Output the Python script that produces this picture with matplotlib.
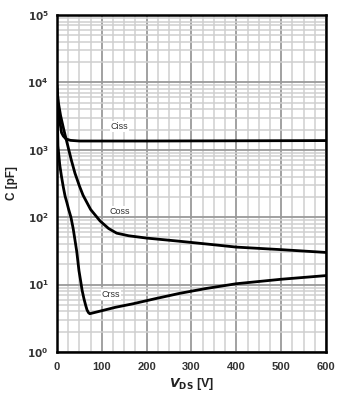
import matplotlib
matplotlib.use("Agg")
import matplotlib.pyplot as plt
from matplotlib.ticker import LogLocator, MultipleLocator, FixedLocator

plt.rcParams['font.family'] = ['Liberation Sans', 'DejaVu Sans']

# Data (V_DS in V, C in pF)
ciss_v = [0, 2, 5, 8, 10, 14, 20, 30, 50, 100, 200, 300, 400, 500, 600]
ciss_c = [9000, 5000, 3000, 2200, 1800, 1600, 1450, 1380, 1350, 1350, 1350, 1355, 1360, 1365, 1370]

coss_v = [0, 3, 8, 15, 24, 32, 40, 50, 58, 75, 96, 115, 133, 160, 200, 273, 350, 400, 500, 600]
coss_c = [8000, 5000, 3200, 2000, 1150, 700, 450, 290, 212, 130, 88, 68, 58, 53, 49, 44, 39, 36, 33, 30]

crss_v = [0, 2, 6, 10, 14, 18, 22, 26, 31, 36, 40, 44, 49, 53, 56, 60, 64, 67, 70, 73, 80, 100, 130, 170, 220, 273, 330, 400, 500, 600]
crss_c = [7000, 1150, 600, 400, 280, 205, 165, 130, 100, 68, 46, 31, 16, 11, 8.2, 6.2, 4.9, 4.2, 3.85, 3.7, 3.8, 4.1, 4.6, 5.2, 6.2, 7.4, 8.7, 10.3, 12.0, 13.6]

labels = ["Ciss", "Coss", "Crss"]
label_pos = [(120, 2200), (118, 123), (100, 7.1)]

xticks = [0, 100, 200, 300, 400, 500, 600]
yticks = [1, 10, 100, 1000, 10000, 100000]
ytick_labels = [r"$\mathbf{10^{0}}$", r"$\mathbf{10^{1}}$", r"$\mathbf{10^{2}}$",
                r"$\mathbf{10^{3}}$", r"$\mathbf{10^{4}}$", r"$\mathbf{10^{5}}$"]

fig = plt.figure(figsize=(3.52, 4.0), dpi=100)
ax = fig.add_axes([0.162, 0.12, 0.764, 0.8425])
ax.set_yscale('log')
ax.set_xlim(0, 600)
ax.set_ylim(1, 1e5)

ax.xaxis.set_major_locator(FixedLocator(xticks))
ax.xaxis.set_minor_locator(MultipleLocator(25))
ax.yaxis.set_major_locator(FixedLocator(yticks))
ax.yaxis.set_minor_locator(LogLocator(base=10, subs=range(2, 10)))
ax.grid(True, which='major', color='#9a9a9a', linewidth=1.3)
ax.grid(True, which='minor', color='#cfcfcf', linewidth=1.1)
ax.set_axisbelow(True)

for v, c in [(ciss_v, ciss_c), (coss_v, coss_c), (crss_v, crss_c)]:
    ax.plot(v, c, color='black', linewidth=2.0, solid_capstyle='round', solid_joinstyle='round')

for txt, (x, y) in zip(labels, label_pos):
    ax.text(x, y, txt, fontsize=6.5, color='#333333', ha='left', va='center',
            bbox=dict(facecolor='white', edgecolor='none', pad=0.6))

ax.set_xticks(xticks)
ax.set_xticklabels([str(t) for t in xticks], fontsize=8, fontweight='bold', color='#333333')
ax.set_yticks(yticks)
ax.set_yticklabels(ytick_labels, fontsize=7.5, color='#333333')
ax.tick_params(which='both', length=0, pad=6)
ax.tick_params(axis='x', pad=7)

for s in ax.spines.values():
    s.set_linewidth(1.8)
    s.set_color('black')

ax.set_ylabel("C [pF]", fontsize=8.5, fontweight='bold', color='#222222', labelpad=7)
ax.set_xlabel(r"$\mathbfit{V}_{\mathbf{DS}}$ [V]", fontsize=9, fontweight='bold', color='#222222', labelpad=3)

fig.savefig("out.png", dpi=100, facecolor='white')
